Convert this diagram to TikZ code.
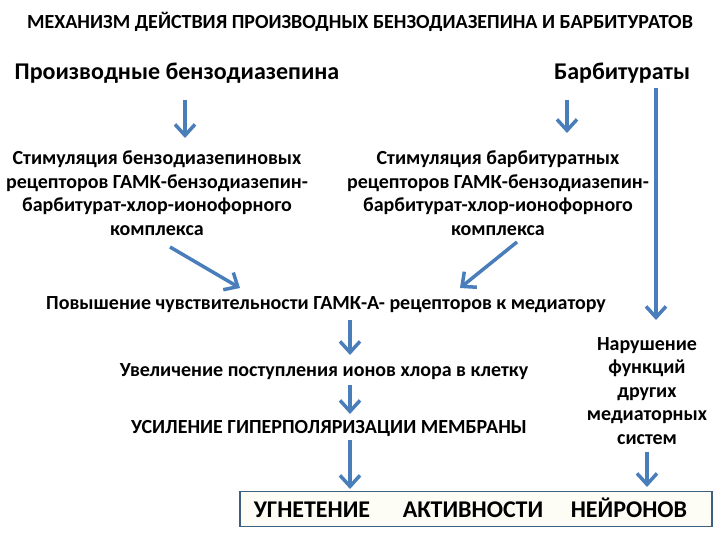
\documentclass[tikz,border=0pt]{standalone}
\usepackage{fontspec}
\setmainfont{Carlito}
\usetikzlibrary{arrows.meta}
\definecolor{arr}{HTML}{4A7EBB}
\definecolor{boxline}{HTML}{3D5F80}
\definecolor{boxfill}{HTML}{FDFDF5}
\tikzset{
  txt/.style={font=\bfseries\fontsize{20}{23.5}\selectfont, align=center, inner sep=0pt},
  ttl/.style={font=\bfseries\fontsize{20}{22}\selectfont, inner sep=0pt},
  big/.style={font=\bfseries\fontsize{24}{26}\selectfont, inner sep=0pt},
  fl/.style={draw=arr, line width=3.5pt, -{Straight Barb[length=11pt,width=20pt,line width=3.5pt]}},
}
\begin{document}
\begin{tikzpicture}[x=1pt,y=-1pt]
\useasboundingbox (0,0) rectangle (720,540);
\node[ttl] (title) at (360,22) {МЕХАНИЗМ ДЕЙСТВИЯ ПРОИЗВОДНЫХ БЕНЗОДИАЗЕПИНА И БАРБИТУРАТОВ};
\node[big] (benz) at (177,73) {Производные бензодиазепина};
\node[big] (barb) at (622,73) {Барбитураты};
\node[txt] (sb) at (157,193) {Стимуляция бензодиазепиновых\\рецепторов ГАМК-бензодиазепин-\\барбитурат-хлор-ионофорного\\комплекса};
\node[txt] (sbar) at (498,193) {Стимуляция барбитуратных\\рецепторов ГАМК-бензодиазепин-\\барбитурат-хлор-ионофорного\\комплекса};
\node[txt] (pov) at (326,305) {Повышение чувствительности ГАМК-А- рецепторов к медиатору};
\node[txt] (uvel) at (324,372) {Увеличение поступления ионов хлора в клетку};
\node[txt] (usil) at (329,428) {УСИЛЕНИЕ ГИПЕРПОЛЯРИЗАЦИИ МЕМБРАНЫ};
\node[txt] (nar) at (647,391) {Нарушение\\функций\\других\\медиаторных\\систем};
\node[draw=boxline, fill=boxfill, line width=1.5pt, minimum width=472pt, minimum height=35pt, inner sep=0pt] (box) at (476,509) {};
\node[big, anchor=base] (u1) at (312,517) {УГНЕТЕНИЕ};
\node[big, anchor=base] (u2) at (473,517) {АКТИВНОСТИ};
\node[big, anchor=base] (u3) at (629,517) {НЕЙРОНОВ};
\coordinate (a1s) at (185,100); \coordinate (a1e) at (185,138);
\coordinate (a2s) at (567,100); \coordinate (a2e) at (567,133);
\coordinate (a3s) at (656,88); \coordinate (a3e) at (656,320);
\coordinate (a4s) at (170,247); \coordinate (a4e) at (240,288);
\coordinate (a5s) at (517,242); \coordinate (a5e) at (460,288);
\coordinate (a6s) at (350,320); \coordinate (a6e) at (350,355);
\coordinate (a7s) at (350,385); \coordinate (a7e) at (350,414);
\coordinate (a8s) at (350,440); \coordinate (a8e) at (350,489);
\coordinate (a9s) at (647,452); \coordinate (a9e) at (647,487);
\draw[fl] (a1s) -- (a1e);
\draw[fl] (a2s) -- (a2e);
\draw[fl] (a3s) -- (a3e);
\draw[fl] (a4s) -- (a4e);
\draw[fl] (a5s) -- (a5e);
\draw[fl] (a6s) -- (a6e);
\draw[fl] (a7s) -- (a7e);
\draw[fl] (a8s) -- (a8e);
\draw[fl] (a9s) -- (a9e);
\end{tikzpicture}
\end{document}
